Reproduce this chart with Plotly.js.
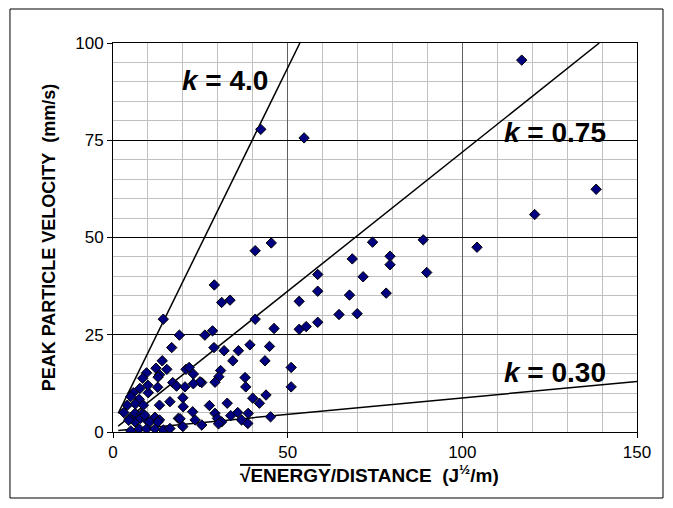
<!DOCTYPE html>
<html><head><meta charset="utf-8">
<script src="https://cdn.plot.ly/plotly-3.0.1.min.js"></script>
<style>html,body{margin:0;padding:0;background:#fff}</style>
</head><body><div id="chart" style="width:673px;height:508px"></div>
<script>
// Measured data points: sqrt(E)/D (J^0.5/m) and PPV (mm/s)
const ppvX = [117.0,138.3,120.7,88.8,104.2,89.8,42.3,54.7,45.3,40.7,
  74.3,68.5,79.3,79.3,58.6,71.6,58.6,67.7,78.2,53.3,
  64.7,69.9,58.6,53.3,55.3,51.0,51.0,29.0,31.1,33.5,
  40.7,46.1,26.3,28.5,28.9,31.8,35.9,34.3,39.2,44.8,
  43.5,25.4,30.8,30.3,29.2,37.8,38.0,40.0,41.9,43.8,
  32.7,27.6,29.2,29.9,31.1,33.7,35.7,36.8,38.6,38.7,
  45.1,25.4,14.4,19.0,16.8,14.1,12.3,15.4,9.6,13.3,
  8.5,20.9,21.8,23.0,24.9,17.1,18.2,20.6,12.8,7.7,
  10.1,5.8,5.1,7.5,6.4,8.7,13.3,16.3,20.0,3.1,
  6.3,8.2,4.7,6.3,7.9,9.6,12.0,13.3,5.1,7.5,
  9.6,12.0,14.4,16.3,18.7,20.0,22.8,23.5,20.1,12.9,
  10.0,4.1,9.1,4.5,10.5,12.9,23.0,19.2,30.2];
const ppvY = [95.6,62.4,55.9,49.4,47.5,41.0,77.8,75.6,48.6,46.6,
  48.8,44.5,45.2,43.0,40.5,39.9,36.2,35.2,35.7,33.6,
  30.2,30.4,28.2,26.4,27.1,16.6,11.6,37.8,33.3,33.9,
  29.0,26.6,24.9,26.0,21.7,20.9,20.9,18.3,22.4,22.0,
  18.3,12.7,15.8,14.2,12.8,14.0,11.6,8.7,7.4,9.5,
  7.4,6.8,4.8,3.5,2.6,4.2,5.0,3.1,2.2,4.8,
  3.9,1.8,29.0,24.9,21.7,18.3,16.4,16.1,15.2,14.7,
  13.8,16.1,16.6,14.9,12.9,12.7,11.8,11.6,11.5,11.2,
  10.1,10.1,9.1,8.4,7.2,6.9,6.9,7.8,8.8,5.0,
  4.8,4.6,3.5,2.6,3.5,3.1,3.8,3.1,0.3,0.8,
  0.8,0.8,0.5,0.9,3.5,1.4,5.2,3.1,6.5,14.1,
  12.0,6.9,4.3,3.0,2.6,2.6,12.4,3.4,2.1];

// Reference lines (end points)
const k40X = [1.5, 53.5],   k40Y = [4.8, 100];
const k075X = [1.5, 139.2], k075Y = [1.5, 100];
const k030X = [1.5, 150],   k030Y = [0.4, 13.0];
const kLabels = ["<b><i>k</i> = 4.0</b>", "<b><i>k</i> = 0.75</b>", "<b><i>k</i> = 0.30</b>"];

const xTicks = [0, 50, 100, 150];
const yTicks = [0, 25, 50, 75, 100];
const xTitle = '<b><span style="text-decoration:overline">√ENERGY</span>/DISTANCE\u00a0\u00a0(J<sup>½</sup>/m)</b>';
const yTitle = 'PEAK PARTICLE VELOCITY\u00a0\u00a0(mm/s)';

const lineStyle = {color: '#000', width: 1.5};
const traces = [
  {x: k40X, y: k40Y, mode: 'lines', line: lineStyle, showlegend: false, hoverinfo: 'skip'},
  {x: k075X, y: k075Y, mode: 'lines', line: lineStyle, showlegend: false, hoverinfo: 'skip'},
  {x: k030X, y: k030Y, mode: 'lines', line: lineStyle, showlegend: false, hoverinfo: 'skip'},
  {x: ppvX, y: ppvY, mode: 'markers', showlegend: false,
   marker: {symbol: 'diamond', size: 8, color: '#000080', line: {color: '#000', width: 1}}}
];

const FONT = 'Liberation Sans, Arial, sans-serif';
const layout = {
  width: 673, height: 508,
  margin: {l: 113, r: 36, t: 43, b: 76},
  paper_bgcolor: '#fff', plot_bgcolor: '#fff',
  showlegend: false,
  font: {family: FONT, color: '#000'},
  xaxis: {
    range: [0, 150], tickvals: xTicks, ticktext: xTicks.map(String),
    ticks: 'outside', ticklen: 5, tickcolor: '#000', tickwidth: 1,
    showline: true, linecolor: '#000', linewidth: 1, mirror: true,
    showgrid: true, gridcolor: '#606060', gridwidth: 1, zeroline: false,
    minor: {dtick: 10, tick0: 0, showgrid: true, gridcolor: '#c0c0c0', gridwidth: 1},
    tickfont: {family: FONT, size: 17, color: '#000'}
  },
  yaxis: {
    range: [0, 100], tickvals: yTicks, ticktext: yTicks.map(String),
    ticks: 'outside', ticklen: 5, tickcolor: '#000', tickwidth: 1,
    showline: true, linecolor: '#000', linewidth: 1, mirror: true,
    showgrid: true, gridcolor: '#000', gridwidth: 1, zeroline: false,
    minor: {dtick: 5, tick0: 0, showgrid: true, gridcolor: '#c0c0c0', gridwidth: 1},
    tickfont: {family: FONT, size: 17, color: '#000'},
    title: {text: yTitle,
            font: {family: FONT, size: 18, color: '#000', weight: 'bold'}, standoff: 14}
  },
  annotations: [
    {x: 32.1, y: 90.3, xref: 'x', yref: 'y', text: kLabels[0], showarrow: false,
     font: {family: FONT, size: 28, color: '#000'}},
    {x: 126.5, y: 77.0, xref: 'x', yref: 'y', text: kLabels[1], showarrow: false,
     font: {family: FONT, size: 28, color: '#000'}},
    {x: 126.5, y: 15.3, xref: 'x', yref: 'y', text: kLabels[2], showarrow: false,
     font: {family: FONT, size: 28, color: '#000'}},
    {x: 0.49, y: -0.107, xref: 'paper', yref: 'paper', xanchor: 'center', yanchor: 'middle',
     text: xTitle, showarrow: false, font: {family: FONT, size: 19, color: '#000'}}
  ],
  shapes: [
    {type: 'rect', xref: 'paper', yref: 'paper',
     x0: -0.1966, x1: 1.0496, y0: -0.1697, y1: 1.0874,
     line: {color: '#000', width: 1}, fillcolor: 'rgba(0,0,0,0)', layer: 'above'}
  ]
};

Plotly.newPlot('chart', traces, layout, {displayModeBar: false, staticPlot: true});
</script>
</body></html>
